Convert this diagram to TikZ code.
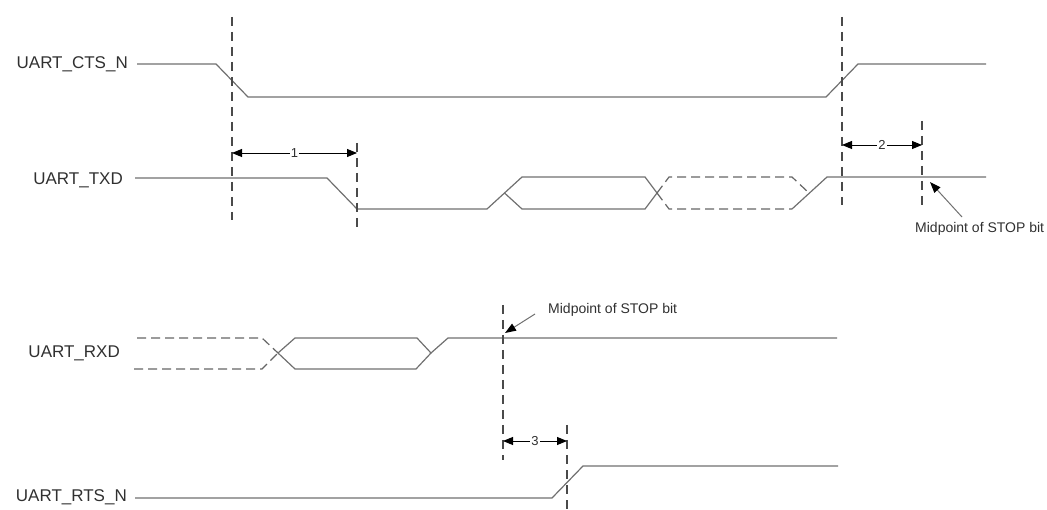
\documentclass[tikz,border=0pt]{standalone}
\usepackage{fontspec}
\setmainfont{Liberation Sans}
\usetikzlibrary{arrows.meta}
\definecolor{sigcol}{HTML}{707070}
\definecolor{guidecol}{HTML}{4A4A4A}
\definecolor{txtcol}{HTML}{303030}
\begin{document}
\begin{tikzpicture}[x=1pt,y=-1pt,
  sig/.style={draw=sigcol, line width=1.2pt, line join=miter},
  sigdash/.style={draw=guidecol!85!white, line width=1.2pt, dash pattern=on 9pt off 5pt},
  guide/.style={draw=guidecol, line width=1.3pt, dash pattern=on 9pt off 6pt},
  dim/.style={draw=black, line width=0.9pt, {Triangle[length=10pt,width=8pt]}-{Triangle[length=10pt,width=8pt]}},
  lbl/.style={anchor=east, font=\fontsize{17}{20}\selectfont, text=txtcol, inner sep=0pt},
  note/.style={anchor=west, font=\fontsize{14}{16}\selectfont, text=txtcol, inner sep=0pt},
  num/.style={font=\fontsize{13}{15}\selectfont, text=txtcol, fill=white, inner sep=1pt},
  pointer/.style={draw=sigcol, line width=1pt, -{Triangle[length=11pt,width=8pt,black]}}
]
\useasboundingbox (0,0) rectangle (1047,510);

% signal names
\node[lbl] (cts) at (128,64) {UART\_CTS\_N};
\node[lbl] (txd) at (123,180) {UART\_TXD};
\node[lbl] (rxd) at (120,353) {UART\_RXD};
\node[lbl] (rts) at (127,497) {UART\_RTS\_N};

% UART_CTS_N
\draw[sig] (137,64) -- (216,64) -- (248,97) -- (826,97) -- (858,64) -- (986,64);

% UART_TXD
\draw[sig] (135,178) -- (327,178) -- (357,209) -- (487,209) -- (522,177) -- (645,177) -- (657,193);
\draw[sig] (504.5,193) -- (522,209) -- (645,209) -- (657,193);
\draw[sigdash] (657,193) -- (669,209) -- (792,209);
\draw[sigdash] (657,193) -- (669,177) -- (792,177) -- (809,193);
\draw[sig] (792,209) -- (827,177) -- (986,177);

% UART_RXD
\draw[sigdash] (137,338) -- (262,338) -- (278,353);
\draw[sigdash] (134,369) -- (262,369) -- (278,353);
\draw[sig] (278,353) -- (295,338) -- (417,338) -- (431,353) -- (448,338) -- (837,338);
\draw[sig] (278,353) -- (295,369) -- (416,369) -- (431,353);

% UART_RTS_N
\draw[sig] (135,498) -- (552,498) -- (583,466) -- (838,466);

% guide lines
\coordinate (g1t) at (232,17);  \coordinate (g1b) at (232,220);
\coordinate (g2t) at (357,143); \coordinate (g2b) at (357,227);
\coordinate (g3t) at (842,17);  \coordinate (g3b) at (842,205);
\coordinate (g4t) at (922,121); \coordinate (g4b) at (922,206);
\coordinate (g5t) at (503,305); \coordinate (g5b) at (503,460);
\coordinate (g6t) at (567,425); \coordinate (g6b) at (567,510);
\draw[guide] (g1t) -- (g1b);
\draw[guide] (g2t) -- (g2b);
\draw[guide] (g3t) -- (g3b);
\draw[guide] (g4t) -- (g4b);
\draw[guide] (g5t) -- (g5b);
\draw[guide] (g6t) -- (g6b);

% timing dimensions
\coordinate (d1a) at (232,153); \coordinate (d1b) at (357,153);
\coordinate (d2a) at (842,145); \coordinate (d2b) at (922,145);
\coordinate (d3a) at (503,441); \coordinate (d3b) at (567,441);
\draw[dim] (d1a) -- node[num] (n1) {1} (d1b);
\draw[dim] (d2a) -- node[num] (n2) {2} (d2b);
\draw[dim] (d3a) -- node[num] (n3) {3} (d3b);

% notes
\node[note] (m1) at (915,229) {Midpoint of STOP bit};
\node[note] (m2) at (548,310) {Midpoint of STOP bit};
\coordinate (p1) at (930,182);
\coordinate (p2) at (505,333);
\draw[pointer] (962,217) -- (p1);
\draw[pointer] (535,314) -- (p2);
\end{tikzpicture}
\end{document}
